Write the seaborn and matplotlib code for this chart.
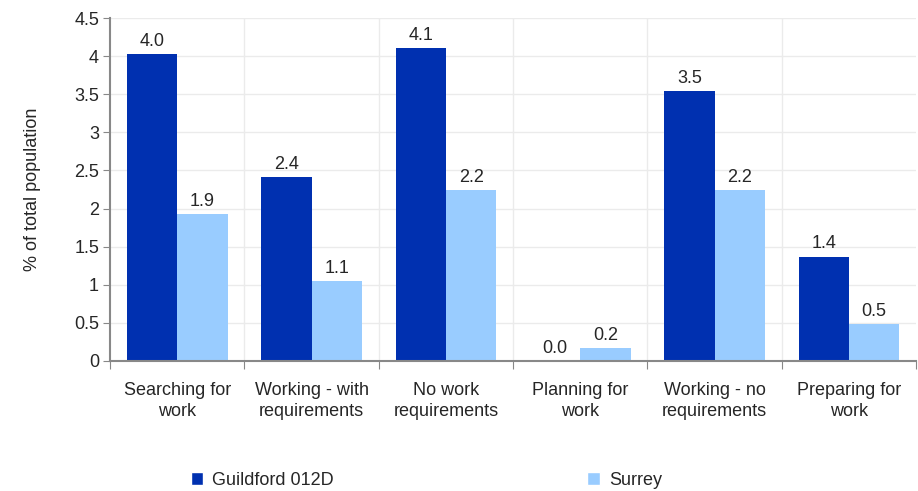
import pandas as pd
import numpy as np
import matplotlib.pyplot as plt
import seaborn as sns
from matplotlib.patches import Patch

# Data
categories = ["Searching for\nwork", "Working - with\nrequirements", "No work\nrequirements",
              "Planning for\nwork", "Working - no\nrequirements", "Preparing for\nwork"]
guildford = [4.03, 2.41, 4.11, 0.0, 3.54, 1.37]
surrey = [1.93, 1.05, 2.24, 0.17, 2.24, 0.48]
series_names = ["Guildford 012D", "Surrey"]
colors = ["#0030B0", "#99CCFF"]

df = pd.DataFrame({
    "category": categories * 2,
    "value": guildford + surrey,
    "area": [series_names[0]] * len(categories) + [series_names[1]] * len(categories),
})

sns.set_style("white")
plt.rcParams['font.family'] = ['Liberation Sans', 'DejaVu Sans']
fs = 13

fig, ax = plt.subplots(figsize=(9.18, 4.91), dpi=100)
fig.subplots_adjust(left=0.12, right=0.998, top=0.963, bottom=0.265)

sns.barplot(data=df, x="category", y="value", hue="area", palette=colors,
            width=0.75, saturation=1, linewidth=0, ax=ax, legend=False)

# value labels
for cont in ax.containers:
    ax.bar_label(cont, fmt="%.1f", padding=3, fontsize=fs)

ax.set_ylim(0, 4.5)
ax.set_yticks(np.arange(0, 4.51, 0.5))
ax.set_yticklabels(["0", "0.5", "1", "1.5", "2", "2.5", "3", "3.5", "4", "4.5"])
ax.set_xlim(-0.5, len(categories) - 0.5)
ax.set_xlabel("")
ax.set_ylabel("% of total population", fontsize=fs, labelpad=24)

# gridlines: horizontal at ticks, vertical between categories
ax.grid(axis="y", color="#EBEBEB", linewidth=1)
for b in np.arange(0.5, len(categories) - 0.5, 1):
    ax.axvline(b, color="#EBEBEB", linewidth=1, zorder=0)
ax.set_axisbelow(True)

ax.set_xticks(np.arange(-0.5, len(categories) - 0.4, 1), minor=False)
ax.set_xticklabels([])
ax.set_xticks(np.arange(len(categories)), minor=True)
ax.set_xticklabels(categories, minor=True, fontsize=fs, linespacing=1.3)
ax.tick_params(axis="x", which="major", length=6, color="#888888", direction="out", bottom=True)
ax.tick_params(axis="x", which="minor", length=0, pad=15)
ax.tick_params(axis="y", length=5, color="#888888", direction="out", left=True, labelsize=fs, pad=3)

for s in ["top", "right"]:
    ax.spines[s].set_visible(False)
for s in ["left", "bottom"]:
    ax.spines[s].set_color("#888888")
    ax.spines[s].set_linewidth(1.5)

# legend at bottom, entries spread apart
handles = [Patch(facecolor=colors[0]), Patch(facecolor=colors[1])]
fig.legend(handles[:1], series_names[:1], loc="center left", bbox_to_anchor=(0.19, 0.022),
           frameon=False, fontsize=fs, handlelength=0.7, handleheight=0.7, handletextpad=0.5)
fig.legend(handles[1:], series_names[1:], loc="center left", bbox_to_anchor=(0.622, 0.022),
           frameon=False, fontsize=fs, handlelength=0.7, handleheight=0.7, handletextpad=0.5)

fig.savefig("out.png", dpi=100)
